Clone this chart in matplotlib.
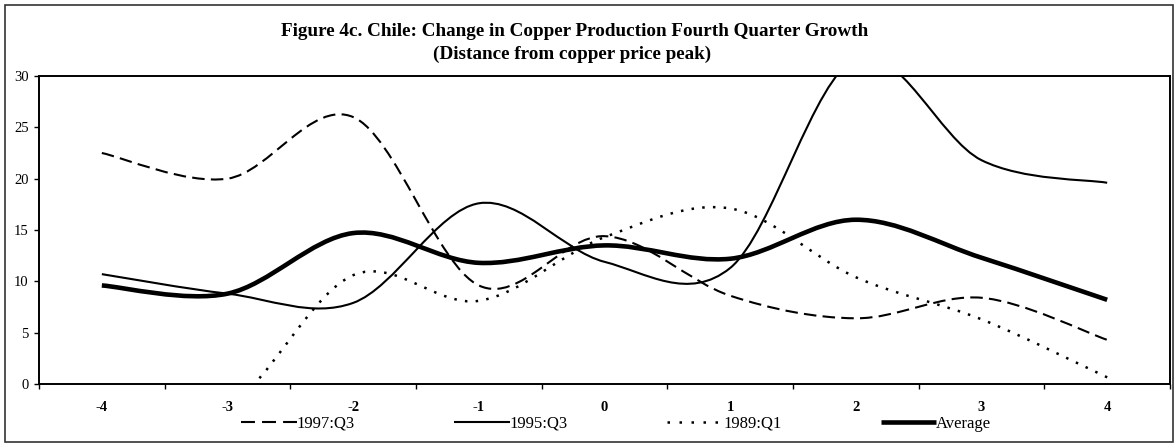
import matplotlib
matplotlib.use("Agg")
import matplotlib.pyplot as plt
from matplotlib.path import Path
from matplotlib.patches import PathPatch, Rectangle
from matplotlib.lines import Line2D

plt.rcParams['font.family'] = ['Liberation Serif', 'DejaVu Serif']

# ---------------- data ----------------
categories = [-4, -3, -2, -1, 0, 1, 2, 3, 4]
s1997_q3 = [22.5, 20.0, 26.0, 9.6, 14.4, 8.6, 6.4, 8.4, 4.3]
s1995_q3 = [10.7, 8.8, 7.9, 17.6, 11.9, 11.3, 31.7, 21.8, 19.6]
s1989_q1 = [-4.0, -2.3, 10.6, 8.1, 14.3, 17.1, 10.4, 6.3, 0.65]
average = [9.6, 8.8, 14.7, 11.8, 13.5, 12.2, 16.0, 12.3, 8.2]
series_labels = ["1997:Q3", "1995:Q3", "1989:Q1", "Average"]
y_ticks = [0, 5, 10, 15, 20, 25, 30]
title_line1 = "Figure 4c. Chile: Change in Copper Production Fourth Quarter Growth"
title_line2 = "(Distance from copper price peak)"


def smooth_path(xs, ys):
    """Excel-style smoothed line as cubic Bezier segments through the data points."""
    pts = list(zip(xs, ys))
    n = len(pts)
    verts = [pts[0]]
    codes = [Path.MOVETO]
    for i in range(n - 1):
        p0 = pts[i - 1] if i > 0 else pts[i]
        p1 = pts[i]
        p2 = pts[i + 1]
        p3 = pts[i + 2] if i + 2 < n else pts[i + 1]
        c1 = (p1[0] + (p2[0] - p0[0]) / 6, p1[1] + (p2[1] - p0[1]) / 6)
        c2 = (p2[0] - (p3[0] - p1[0]) / 6, p2[1] - (p3[1] - p1[1]) / 6)
        verts += [c1, c2, p2]
        codes += [Path.CURVE4] * 3
    return Path(verts, codes)


W, H = 1175, 445
fig = plt.figure(figsize=(W / 100, H / 100), dpi=100)
ax = fig.add_axes([39 / W, (H - 384) / H, (1170 - 39) / W, (384 - 76) / H])

# (line width, line style in plot, line style in legend)
styles = [
    (1.5, (0, (6, 3)), (0, (6.7, 3.4))),
    (1.5, '-', '-'),
    (1.8, (0, (1, 3.3)), (0, (1, 3.8))),
    (3.3, '-', '-'),
]
series = [s1997_q3, s1995_q3, s1989_q1, average]

handles = []
for vals, (lw, ls, lls), lab in zip(series, styles, series_labels):
    patch = PathPatch(smooth_path(categories, vals), fill=False, edgecolor='black',
                      linewidth=lw, linestyle=ls, capstyle='butt',
                      joinstyle='round', transform=ax.transData)
    ax.add_patch(patch)
    handles.append(Line2D([], [], color='black', lw=lw, ls=lls,
                          dash_capstyle='butt', solid_capstyle='butt'))

ax.set_xlim(categories[0] - 0.5, categories[-1] + 0.5)
ax.set_ylim(y_ticks[0], y_ticks[-1])

ax.set_xticks(categories)
ax.set_xticklabels([str(c) for c in categories], fontweight='bold', fontsize=10.5)
ax.set_xticks([c - 0.5 for c in categories] + [categories[-1] + 0.5], minor=True)
ax.tick_params(axis='x', which='major', length=0, pad=12)
ax.tick_params(axis='x', which='minor', length=3.8, width=1.0, direction='out')

ax.set_yticks(y_ticks)
ax.set_yticklabels([str(v) for v in y_ticks], fontsize=10.5)
ax.tick_params(axis='y', which='major', length=3.5, width=1.0, direction='out', pad=4)

for sp in ax.spines.values():
    sp.set_linewidth(1.4)
    sp.set_color('black')

fig.legend(handles, series_labels, loc='center left',
           bbox_to_anchor=(241 / W, 1 - 424 / H), ncol=4, frameon=False,
           handlelength=3.35, handletextpad=0.0, columnspacing=5.95,
           borderpad=0, borderaxespad=0, fontsize=12)

fig.text(575 / W, 1 - 32 / H, title_line1, ha='center', va='center',
         fontsize=13.8, fontweight='bold')
fig.text(572 / W, 1 - 54 / H, title_line2, ha='center', va='center',
         fontsize=13.8, fontweight='bold')

fig.add_artist(Rectangle((5 / W, 3 / H), (1173 - 5) / W, (442 - 5) / H,
                         transform=fig.transFigure, fill=False, lw=1.2,
                         edgecolor='#333333'))

fig.savefig('out.png', dpi=100)
